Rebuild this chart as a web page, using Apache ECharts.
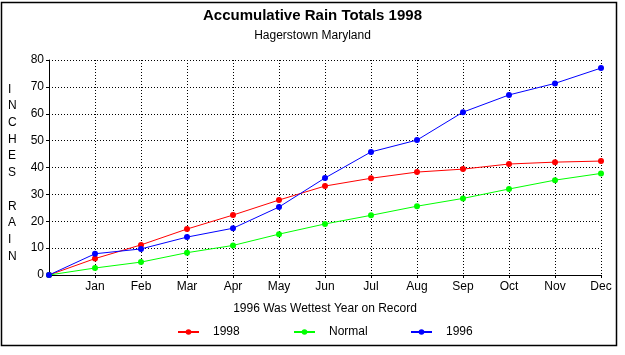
<!DOCTYPE html>
<html>
<head>
<meta charset="utf-8">
<script src="https://cdn.jsdelivr.net/npm/echarts@6/dist/echarts.min.js"></script>
<style>html,body{margin:0;padding:0;background:#fff}#c{width:625px;height:355px}</style>
</head>
<body>
<div id="c"></div>
<script>
var categories = ['', 'Jan', 'Feb', 'Mar', 'Apr', 'May', 'Jun', 'Jul', 'Aug', 'Sep', 'Oct', 'Nov', 'Dec'];
var rain1998 = [0, 6.1, 11.2, 17.1, 22.3, 27.9, 33.1, 36.0, 38.3, 39.4, 41.3, 42.0, 42.4];
var rainNormal = [0, 2.6, 4.8, 8.3, 11.0, 15.2, 19.0, 22.2, 25.6, 28.5, 32.0, 35.3, 37.8];
var rain1996 = [0, 7.9, 9.7, 14.1, 17.4, 25.3, 36.1, 45.8, 50.2, 60.6, 67.0, 71.3, 77.0];
var seriesNames = ['1998', 'Normal', '1996'];
var seriesColors = ['#ff0000', '#00ff00', '#0000ff'];

var font = 'Liberation Sans, Arial, sans-serif';
var chart = echarts.init(document.getElementById('c'), null, {renderer: 'canvas'});
var dataSets = [rain1998, rainNormal, rain1996];
var legendLefts = [177, 293, 410];

chart.setOption({
  animation: false,
  backgroundColor: '#ffffff',
  textStyle: {fontFamily: font},
  title: [
    {text: 'Accumulative Rain Totals 1998', left: 'center', top: 3,
     textStyle: {fontFamily: font, fontSize: 15, fontWeight: 'bold', color: '#000'}},
    {text: 'Hagerstown Maryland', left: 'center', top: 25,
     textStyle: {fontFamily: font, fontSize: 12, fontWeight: 'normal', color: '#000'}}
  ],
  legend: seriesNames.map(function (n, i) {
    return {
      data: [n], left: legendLefts[i], top: 326, padding: 0, itemWidth: 21, itemHeight: 7,
      textStyle: {fontFamily: font, fontSize: 12, color: '#000', padding: [0, 0, 0, 9]}
    };
  }),
  grid: {left: 49, right: 24, top: 60, bottom: 80, containLabel: false},
  xAxis: {
    type: 'category', data: categories, boundaryGap: false,
    name: '1996 Was Wettest Year on Record', nameLocation: 'middle', nameGap: 28,
    nameTextStyle: {fontFamily: font, fontSize: 12, color: '#000'},
    axisLine: {lineStyle: {color: '#000', width: 1}},
    axisTick: {show: true, length: 3, lineStyle: {color: '#000'}},
    axisLabel: {fontFamily: font, fontSize: 12, color: '#000', margin: 6, interval: 0},
    splitLine: {show: true, lineStyle: {color: '#000', type: [1, 2], width: 1}}
  },
  yAxis: {
    type: 'value', min: 0, max: 80, interval: 10,
    axisLine: {show: true, lineStyle: {color: '#000', width: 1}},
    axisTick: {show: true, length: 3, lineStyle: {color: '#000'}},
    axisLabel: {fontFamily: font, fontSize: 12, color: '#000', margin: 5},
    splitLine: {show: true, lineStyle: {color: '#000', type: [1, 2], width: 1}}
  },
  graphic: [
    {type: 'rect', shape: {x: 1.5, y: 2.5, width: 615, height: 343},
     style: {fill: null, stroke: '#000', lineWidth: 1.5}, silent: true},
    {type: 'text', left: 8, top: 81,
     style: {text: 'I\nN\nC\nH\nE\nS\n\nR\nA\nI\nN', fontFamily: font, fontSize: 12,
             fill: '#000', lineHeight: 16.7, align: 'center', width: 10}}
  ],
  series: seriesNames.map(function (n, i) {
    return {
      name: n, type: 'line', data: dataSets[i],
      symbol: 'circle', symbolSize: 6, showSymbol: true,
      lineStyle: {color: seriesColors[i], width: 1},
      itemStyle: {color: seriesColors[i]}
    };
  })
});
</script>
</body>
</html>
